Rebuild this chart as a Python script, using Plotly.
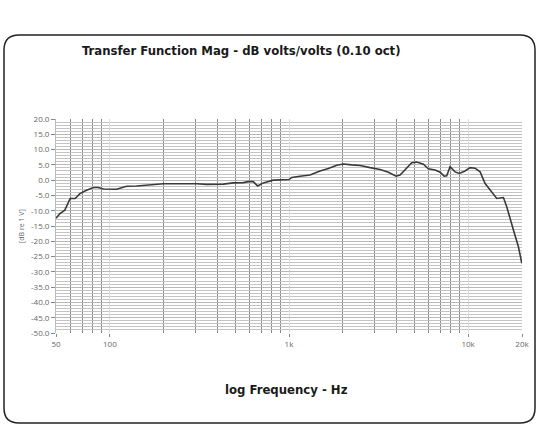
import plotly.graph_objects as go

# ---- data ----
freq_hz = [50, 52.6, 56, 60, 64, 68, 74, 81, 86, 92, 109, 124, 141, 160, 199, 305, 347, 430,
           489, 556, 593, 631, 668, 719, 817, 1000, 1035, 1152, 1310, 1490, 1660, 1846, 2012,
           2240, 2495, 2838, 3225, 3590, 3963, 4170, 4447, 4845, 5165, 5627, 6000, 6540, 6980,
           7350, 7600, 7930, 8460, 8940, 9620, 10260, 10940, 11670, 12450, 13280, 14460,
           15750, 16440, 17910, 19100, 19950]
mag_db = [-12.5, -10.9, -9.8, -6.0, -6.0, -4.4, -3.3, -2.4, -2.4, -2.9, -3.0, -2.0, -1.9, -1.6,
          -1.2, -1.2, -1.4, -1.3, -0.9, -0.8, -0.5, -0.5, -1.9, -0.9, 0.0, 0.2, 0.9, 1.3, 1.7,
          3.0, 3.8, 4.9, 5.3, 5.0, 4.8, 4.1, 3.5, 2.6, 1.3, 1.7, 3.5, 5.7, 5.9, 5.2, 3.7, 3.3,
          2.6, 1.3, 1.4, 4.4, 2.7, 2.2, 3.0, 4.1, 3.9, 2.7, -1.1, -3.3, -6.0, -5.7, -8.7,
          -16.3, -21.8, -27.2]

x_tick_vals = [50, 100, 1000, 10000, 20000]
x_tick_text = ["50", "100", "1k", "10k", "20k"]
x_minor_vals = [60, 70, 80, 90, 200, 300, 400, 500, 600, 700, 800, 900,
                2000, 3000, 4000, 5000, 6000, 7000, 8000, 9000]
y_tick_vals = [20, 15, 10, 5, 0, -5, -10, -15, -20, -25, -30, -35, -40, -45, -50]
y_tick_text = ["20.0", "15.0", "10.0", "5.0", "0.0", "-5.0", "-10.0", "-15.0", "-20.0",
               "-25.0", "-30.0", "-35.0", "-40.0", "-45.0", "-50.0"]

title_text = "Transfer Function Mag - dB volts/volts (0.10 oct)"
x_title = "log Frequency - Hz"
y_title = "[dB re 1 V]"

W, H = 538, 426
L, R, T, B = 56, 16, 119, 93
pw, ph = W - L - R, H - T - B


def px(x):
    return (x - L) / pw


def py(y):
    return (H - B - y) / ph


fig = go.Figure()
fig.add_trace(go.Scatter(x=freq_hz, y=mag_db, mode="lines",
                         line=dict(color="#3a3a3a", width=1.6), hoverinfo="skip"))

# rounded frame (paper coords)
x0, x1, y0, y1 = px(4), px(535), py(423), py(35)
rx, ry = 15 / pw, 15 / ph
path = (f"M {x0+rx},{y1} L {x1-rx},{y1} Q {x1},{y1} {x1},{y1-ry} "
        f"L {x1},{y0+ry} Q {x1},{y0} {x1-rx},{y0} L {x0+rx},{y0} "
        f"Q {x0},{y0} {x0},{y0+ry} L {x0},{y1-ry} Q {x0},{y1} {x0+rx},{y1} Z")
fig.add_shape(type="path", xref="paper", yref="paper", path=path,
              line=dict(color="#222", width=1.5), layer="below")

cond = "DejaVu Sans Condensed, Liberation Sans Narrow, sans-serif"
fig.add_annotation(text=f"<b>{title_text}</b>", xref="paper", yref="paper",
                   x=px(80), y=py(51), xanchor="left", yanchor="middle", showarrow=False,
                   font=dict(family=cond, size=13, color="#1a1a1a"))
fig.add_annotation(text=f"<b>{x_title}</b>", xref="paper", yref="paper",
                   x=px(286), y=py(389), xanchor="center", yanchor="middle", showarrow=False,
                   font=dict(family=cond, size=13, color="#1a1a1a"))
fig.add_annotation(text=y_title, xref="paper", yref="paper", textangle=-90,
                   x=px(21), y=py(226), xanchor="center", yanchor="middle", showarrow=False,
                   font=dict(family="Open Sans, sans-serif", size=7, color="#666"))

tickfont = dict(family="Open Sans, sans-serif", size=8, color="#666")
fig.update_xaxes(type="log", range=[1.69897, 4.30103], tickvals=x_tick_vals,
                 ticktext=x_tick_text, showgrid=True, gridcolor="#dddddd", gridwidth=1,
                 ticks="outside", ticklen=3, tickcolor="#888", tickfont=tickfont,
                 showline=False, zeroline=False,
                 minor=dict(tickvals=x_minor_vals, showgrid=True, gridcolor="#8a8a8a",
                            gridwidth=1, ticks=""))
fig.update_yaxes(range=[-50, 20], tickvals=y_tick_vals, ticktext=y_tick_text,
                 showgrid=True, gridcolor="#b8b8b8", gridwidth=1,
                 ticks="outside", ticklen=4, tickcolor="#888", tickfont=tickfont,
                 showline=True, linecolor="#bbbbbb", linewidth=1, zeroline=False,
                 minor=dict(dtick=1, showgrid=True, gridcolor="#c4c4c4", gridwidth=1, ticks=""))

fig.update_layout(width=W, height=H, margin=dict(l=L, r=R, t=T, b=B, autoexpand=False),
                  paper_bgcolor="white", plot_bgcolor="white", showlegend=False)

fig.write_html("out.html", config={"displayModeBar": False},
               post_script="document.body.style.margin='0';document.body.style.overflow='hidden';")
